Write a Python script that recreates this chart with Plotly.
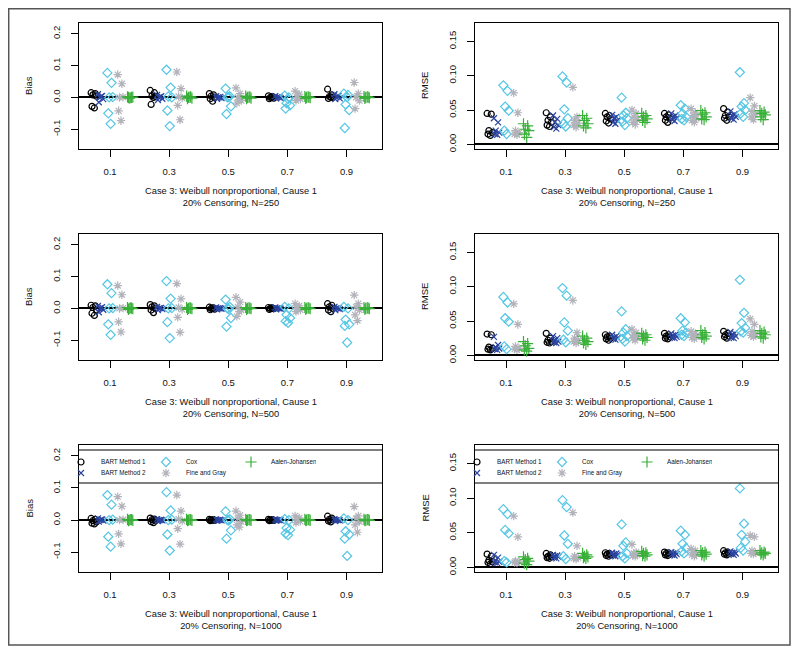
import plotly.graph_objects as go

# time quantiles on the x axis
groups = [0.1, 0.3, 0.5, 0.7, 0.9]
group_labels = ["0.1", "0.3", "0.5", "0.7", "0.9"]
methods = ["BART Method 1", "BART Method 2", "Cox", "Fine and Gray", "Aalen-Johansen"]

# ---- Bias, N=250 ----
bias250_bart1 = [[0.015, 0.012, 0.008, 0.004, -0.028, -0.033],
                 [0.022, 0.015, 0.005, 0.003, -0.022, 0.0],
                 [0.012, 0.008, 0.004, 0.0, -0.004, -0.012],
                 [0.005, 0.003, 0.0, -0.002, -0.004, 0.001],
                 [0.026, 0.008, 0.003, 0.0, -0.003, 0.001]]
bias250_bart2 = [[0.01, 0.005, 0.0, -0.005, -0.015, 0.003],
                 [0.008, 0.004, 0.0, -0.004, -0.008, 0.002],
                 [0.004, 0.002, 0.0, -0.002, -0.004, 0.0],
                 [0.004, 0.002, 0.0, -0.002, -0.003, 0.001],
                 [0.01, 0.005, 0.0, -0.003, -0.005, 0.002]]
bias250_cox = [[0.077, 0.046, 0.0, 0.001, -0.05, -0.083],
               [0.087, 0.031, 0.003, 0.0, -0.041, -0.09],
               [0.028, 0.004, 0.0, -0.028, -0.052, 0.001],
               [0.006, 0.0, -0.018, -0.025, -0.035, -0.005],
               [0.012, 0.008, -0.022, -0.04, -0.096, 0.0]]
bias250_fg = [[0.072, 0.043, 0.0, 0.001, -0.042, -0.073],
              [0.08, 0.028, 0.003, -0.002, -0.025, -0.07],
              [0.03, 0.012, 0.0, -0.01, -0.018, -0.008],
              [0.02, 0.01, 0.0, -0.005, -0.01, 0.005],
              [0.047, 0.012, 0.0, -0.01, -0.035, 0.005]]
bias250_aj = [[0.002, 0.0, -0.002, 0.001, 0.0, -0.001],
              [0.004, 0.002, 0.0, -0.002, -0.004, 0.001],
              [0.004, 0.002, 0.0, -0.002, -0.004, 0.001],
              [0.003, 0.001, 0.0, -0.001, -0.003, 0.002],
              [0.003, 0.001, 0.0, -0.001, -0.003, 0.002]]

# ---- RMSE, N=250 ----
rmse250_bart1 = [[0.045, 0.044, 0.02, 0.017, 0.015, 0.013],
                 [0.046, 0.04, 0.035, 0.032, 0.028, 0.026],
                 [0.045, 0.042, 0.04, 0.037, 0.034, 0.031],
                 [0.045, 0.043, 0.04, 0.038, 0.035, 0.032],
                 [0.052, 0.047, 0.042, 0.04, 0.038, 0.035]]
rmse250_bart2 = [[0.038, 0.032, 0.02, 0.017, 0.015, 0.014],
                 [0.042, 0.037, 0.032, 0.028, 0.025, 0.023],
                 [0.043, 0.04, 0.038, 0.035, 0.032, 0.03],
                 [0.045, 0.042, 0.04, 0.038, 0.036, 0.034],
                 [0.048, 0.044, 0.042, 0.04, 0.038, 0.036]]
rmse250_cox = [[0.086, 0.078, 0.055, 0.049, 0.02, 0.015],
               [0.099, 0.09, 0.051, 0.038, 0.03, 0.026],
               [0.068, 0.046, 0.042, 0.038, 0.033, 0.028],
               [0.057, 0.052, 0.045, 0.04, 0.037, 0.035],
               [0.105, 0.06, 0.055, 0.05, 0.045, 0.04]]
rmse250_fg = [[0.075, 0.046, 0.02, 0.017, 0.015, 0.014],
              [0.083, 0.04, 0.035, 0.031, 0.028, 0.025],
              [0.05, 0.045, 0.04, 0.036, 0.032, 0.029],
              [0.052, 0.046, 0.042, 0.038, 0.035, 0.032],
              [0.068, 0.056, 0.048, 0.044, 0.04, 0.036]]
rmse250_aj = [[0.03, 0.027, 0.022, 0.02, 0.015, 0.01],
              [0.042, 0.038, 0.035, 0.03, 0.027, 0.024],
              [0.045, 0.042, 0.04, 0.037, 0.035, 0.032],
              [0.049, 0.046, 0.044, 0.04, 0.037, 0.036],
              [0.049, 0.047, 0.045, 0.043, 0.04, 0.036]]

# ---- Bias, N=500 ----
bias500_bart1 = [[0.01, 0.008, 0.003, -0.005, -0.015, -0.022],
                 [0.012, 0.008, 0.005, 0.0, -0.005, -0.013],
                 [0.004, 0.002, 0.0, -0.002, -0.004, 0.001],
                 [0.003, 0.001, 0.0, -0.001, -0.003, 0.002],
                 [0.015, 0.01, 0.005, 0.0, -0.005, -0.01]]
bias500_bart2 = [[0.008, 0.004, 0.0, -0.004, -0.012, 0.002],
                 [0.005, 0.002, 0.0, -0.002, -0.005, 0.001],
                 [0.003, 0.001, 0.0, -0.001, -0.003, 0.0],
                 [0.003, 0.001, 0.0, -0.001, -0.003, 0.0],
                 [0.005, 0.002, 0.0, -0.002, -0.005, 0.0]]
bias500_cox = [[0.076, 0.048, 0.0, 0.001, -0.05, -0.083],
               [0.086, 0.031, 0.0, 0.001, -0.043, -0.093],
               [0.028, 0.005, 0.0, -0.03, -0.057, -0.002],
               [0.005, 0.0, -0.02, -0.03, -0.04, -0.045],
               [0.005, 0.0, -0.035, -0.05, -0.055, -0.107]]
bias500_fg = [[0.072, 0.043, 0.0, 0.001, -0.042, -0.074],
              [0.078, 0.03, 0.003, -0.003, -0.028, -0.075],
              [0.035, 0.02, 0.005, -0.005, -0.025, -0.01],
              [0.015, 0.008, 0.0, -0.005, -0.01, 0.003],
              [0.042, 0.015, 0.005, -0.005, -0.02, -0.038]]
bias500_aj = [[0.003, 0.001, 0.0, -0.001, -0.003, 0.002],
              [0.003, 0.001, 0.0, -0.001, -0.003, 0.002],
              [0.003, 0.001, 0.0, -0.001, -0.003, 0.002],
              [0.003, 0.001, 0.0, -0.001, -0.003, 0.002],
              [0.003, 0.001, 0.0, -0.001, -0.003, 0.002]]

# ---- RMSE, N=500 ----
rmse500_bart1 = [[0.031, 0.03, 0.012, 0.01, 0.009, 0.008],
                 [0.032, 0.025, 0.022, 0.02, 0.019, 0.018],
                 [0.03, 0.028, 0.027, 0.025, 0.024, 0.022],
                 [0.032, 0.03, 0.028, 0.027, 0.025, 0.024],
                 [0.035, 0.032, 0.03, 0.028, 0.027, 0.025]]
rmse500_bart2 = [[0.027, 0.015, 0.012, 0.01, 0.009, 0.008],
                 [0.028, 0.025, 0.022, 0.02, 0.019, 0.018],
                 [0.03, 0.028, 0.026, 0.025, 0.024, 0.023],
                 [0.032, 0.03, 0.029, 0.027, 0.026, 0.025],
                 [0.034, 0.032, 0.03, 0.028, 0.026, 0.025]]
rmse500_cox = [[0.085, 0.077, 0.054, 0.049, 0.013, 0.009],
               [0.098, 0.087, 0.048, 0.036, 0.023, 0.019],
               [0.064, 0.038, 0.033, 0.028, 0.024, 0.02],
               [0.054, 0.048, 0.036, 0.033, 0.03, 0.028],
               [0.11, 0.062, 0.047, 0.04, 0.035, 0.033]]
rmse500_fg = [[0.075, 0.045, 0.013, 0.01, 0.009, 0.008],
              [0.08, 0.033, 0.025, 0.022, 0.02, 0.018],
              [0.038, 0.033, 0.03, 0.027, 0.025, 0.022],
              [0.035, 0.032, 0.03, 0.028, 0.026, 0.024],
              [0.053, 0.045, 0.035, 0.031, 0.029, 0.027]]
rmse500_aj = [[0.02, 0.017, 0.014, 0.01, 0.008, 0.006],
              [0.028, 0.025, 0.022, 0.02, 0.018, 0.016],
              [0.032, 0.03, 0.028, 0.026, 0.024, 0.022],
              [0.036, 0.033, 0.03, 0.028, 0.026, 0.024],
              [0.036, 0.034, 0.032, 0.03, 0.027, 0.025]]

# ---- Bias, N=1000 ----
bias1000_bart1 = [[0.005, 0.002, -0.002, -0.006, -0.01, -0.012],
                  [0.006, 0.003, 0.001, -0.002, -0.005, -0.008],
                  [0.002, 0.001, 0.0, -0.001, -0.002, 0.0],
                  [0.002, 0.001, 0.0, -0.001, -0.002, 0.0],
                  [0.012, 0.006, 0.002, 0.0, -0.003, -0.006]]
bias1000_bart2 = [[0.005, 0.002, 0.0, -0.002, -0.005, 0.001],
                  [0.003, 0.001, 0.0, -0.001, -0.003, 0.0],
                  [0.002, 0.001, 0.0, -0.001, -0.002, 0.0],
                  [0.002, 0.001, 0.0, -0.001, -0.002, 0.0],
                  [0.003, 0.001, 0.0, -0.001, -0.003, 0.0]]
bias1000_cox = [[0.078, 0.048, 0.0, 0.001, -0.052, -0.083],
                [0.087, 0.03, 0.0, 0.001, -0.045, -0.095],
                [0.027, 0.003, 0.0, -0.032, -0.058, -0.002],
                [0.003, 0.0, -0.025, -0.03, -0.042, -0.047],
                [0.005, 0.0, -0.035, -0.045, -0.058, -0.112]]
bias1000_fg = [[0.073, 0.043, 0.0, 0.001, -0.043, -0.074],
               [0.078, 0.028, 0.003, -0.003, -0.027, -0.075],
               [0.028, 0.015, 0.005, -0.005, -0.015, -0.022],
               [0.013, 0.007, 0.0, -0.004, -0.008, 0.003],
               [0.042, 0.013, 0.005, -0.005, -0.015, -0.038]]
bias1000_aj = [[0.002, 0.001, 0.0, -0.001, -0.002, 0.001],
               [0.002, 0.001, 0.0, -0.001, -0.002, 0.001],
               [0.002, 0.001, 0.0, -0.001, -0.002, 0.001],
               [0.002, 0.001, 0.0, -0.001, -0.002, 0.001],
               [0.002, 0.001, 0.0, -0.001, -0.002, 0.001]]

# ---- RMSE, N=1000 ----
rmse1000_bart1 = [[0.019, 0.016, 0.01, 0.008, 0.007, 0.005],
                  [0.02, 0.018, 0.016, 0.015, 0.014, 0.013],
                  [0.021, 0.02, 0.019, 0.018, 0.017, 0.016],
                  [0.022, 0.021, 0.02, 0.019, 0.018, 0.017],
                  [0.024, 0.022, 0.021, 0.02, 0.019, 0.018]]
rmse1000_bart2 = [[0.018, 0.014, 0.01, 0.008, 0.007, 0.006],
                  [0.018, 0.017, 0.016, 0.015, 0.014, 0.013],
                  [0.021, 0.02, 0.019, 0.018, 0.017, 0.016],
                  [0.022, 0.021, 0.02, 0.019, 0.018, 0.017],
                  [0.023, 0.022, 0.021, 0.02, 0.019, 0.018]]
rmse1000_cox = [[0.084, 0.077, 0.054, 0.049, 0.009, 0.007],
                [0.097, 0.087, 0.046, 0.034, 0.016, 0.012],
                [0.062, 0.036, 0.031, 0.02, 0.016, 0.013],
                [0.053, 0.047, 0.034, 0.028, 0.023, 0.02],
                [0.114, 0.063, 0.047, 0.037, 0.028, 0.024]]
rmse1000_fg = [[0.074, 0.044, 0.009, 0.008, 0.007, 0.006],
               [0.079, 0.031, 0.016, 0.014, 0.013, 0.012],
               [0.033, 0.022, 0.02, 0.018, 0.017, 0.016],
               [0.027, 0.024, 0.021, 0.019, 0.018, 0.016],
               [0.046, 0.044, 0.024, 0.021, 0.02, 0.019]]
rmse1000_aj = [[0.015, 0.013, 0.011, 0.009, 0.006, 0.004],
               [0.02, 0.018, 0.016, 0.015, 0.014, 0.013],
               [0.023, 0.021, 0.02, 0.018, 0.017, 0.016],
               [0.024, 0.022, 0.021, 0.019, 0.018, 0.016],
               [0.024, 0.022, 0.021, 0.02, 0.019, 0.018]]

panels = [
    ("Bias", "20% Censoring, N=250", [bias250_bart1, bias250_bart2, bias250_cox, bias250_fg, bias250_aj]),
    ("RMSE", "20% Censoring, N=250", [rmse250_bart1, rmse250_bart2, rmse250_cox, rmse250_fg, rmse250_aj]),
    ("Bias", "20% Censoring, N=500", [bias500_bart1, bias500_bart2, bias500_cox, bias500_fg, bias500_aj]),
    ("RMSE", "20% Censoring, N=500", [rmse500_bart1, rmse500_bart2, rmse500_cox, rmse500_fg, rmse500_aj]),
    ("Bias", "20% Censoring, N=1000", [bias1000_bart1, bias1000_bart2, bias1000_cox, bias1000_fg, bias1000_aj]),
    ("RMSE", "20% Censoring, N=1000", [rmse1000_bart1, rmse1000_bart2, rmse1000_cox, rmse1000_fg, rmse1000_aj]),
]

# styles
colors = ["#000000", "#2a44a0", "#55c6e4", "#b2b2ba", "#38b038"]
symbols = ["circle-open", "x-thin-open", "diamond-open", "asterisk-open", "cross-thin-open"]
msizes = [6, 6, 7, 7, 8]
offsets = [-0.055, -0.032, 0.0, 0.035, 0.068]
jitter = [-0.009, 0.005, -0.003, 0.009, -0.006, 0.002]

# the page body adds an 8px margin, so the figure is laid out 8px smaller
OFF = 8
W, H = 800 - OFF, 653 - OFF
col_px = [(79, 382), (475, 778)]
row_px = [(23, 149), (234, 360), (445, 572)]
FONT = "Liberation Sans, Arial, sans-serif"


def px(v):
    return (v - OFF) / W


def py(v):
    return 1 - (v - OFF) / H


fig = go.Figure()

for i, (ylab, sub, series) in enumerate(panels):
    r, c = i // 2, i % 2
    ax = "" if i == 0 else str(i + 1)
    for m, vals in enumerate(series):
        xs, ys = [], []
        for g, gv in zip(groups, vals):
            for k, v in enumerate(gv):
                xs.append(g + offsets[m] + jitter[k % len(jitter)])
                ys.append(v)
        show = i >= 4
        if i == 4:
            leg = "legend" if m in (0, 2, 4) else "legend2"
        else:
            leg = "legend3" if m in (0, 2, 4) else "legend4"
        fig.add_trace(go.Scatter(
            x=xs, y=ys, mode="markers", name=methods[m],
            xaxis="x" + ax, yaxis="y" + ax,
            showlegend=show, legend=leg if show else None,
            marker=dict(symbol=symbols[m], size=msizes[m], color=colors[m],
                        line=dict(color=colors[m], width=1.2)),
        ))

    l, rr = col_px[c]
    t, b = row_px[r]
    if ylab == "Bias":
        yr = [-0.162, 0.234]
        yt = [-0.1, 0.0, 0.1, 0.2]
        ytt = ["-0.1", "0.0", "0.1", "0.2"]
    else:
        yr = [-0.0068, 0.1768]
        yt = [0.0, 0.05, 0.1, 0.15]
        ytt = ["0.00", "0.05", "0.10", "0.15"]
    common = dict(showline=True, mirror=True, linecolor="black", linewidth=1.3,
                  showgrid=False, ticks="outside", ticklen=7, tickwidth=1,
                  tickcolor="black", automargin=False,
                  tickfont=dict(family=FONT, size=9.5, color="#111"))
    fig.layout["xaxis" + ax] = dict(
        domain=[px(l), px(rr)], range=[-0.005, 1.02], anchor="y" + ax,
        tickvals=groups, ticktext=group_labels, zeroline=False,
        ticklabelstandoff=6, **common)
    fig.layout["yaxis" + ax] = dict(
        domain=[py(b), py(t)], range=yr, anchor="x" + ax,
        tickvals=yt, ticktext=ytt, tickangle=-90, ticklabelstandoff=7,
        zeroline=True, zerolinecolor="black", zerolinewidth=1.5, **common)

    # axis titles
    fig.add_annotation(text=ylab, x=px(l - 50), y=py((t + b) / 2),
                       xref="paper", yref="paper", xanchor="center", yanchor="middle",
                       showarrow=False, textangle=-90,
                       font=dict(family=FONT, size=9.5, color="#111"))
    fig.add_annotation(text="Case 3: Weibull nonproportional, Cause 1<br>" + sub,
                       x=px((l + rr) / 2), y=py(b + 48), xref="paper", yref="paper",
                       xanchor="center", yanchor="middle", showarrow=False,
                       font=dict(family=FONT, size=9.3, color="#111"))

# legend box lines in bottom row
for l, rr in col_px:
    for yy in (450, 483):
        fig.add_shape(type="line", xref="paper", yref="paper",
                      x0=px(l), x1=px(rr), y0=py(yy), y1=py(yy),
                      line=dict(color="black", width=1.2))

# outer frame
fig.add_shape(type="rect", xref="paper", yref="paper",
              x0=px(8.7), x1=px(790), y0=py(645), y1=py(8.7),
              line=dict(color="#555", width=1.5))

leg_common = dict(orientation="h", xanchor="left", yanchor="middle",
                  bgcolor="rgba(0,0,0,0)", font=dict(family=FONT, size=6.3, color="#111"),
                  itemwidth=30, entrywidth=40, entrywidthmode="pixels", tracegroupgap=0)
fig.update_layout(
    template="none",
    width=W, height=H, margin=dict(l=0, r=0, t=0, b=0, autoexpand=False),
    paper_bgcolor="white", plot_bgcolor="white",
    legend=dict(x=px(col_px[0][0] - 18), y=py(462), **leg_common),
    legend2=dict(x=px(col_px[0][0] - 18), y=py(473), **leg_common),
    legend3=dict(x=px(col_px[1][0] - 18), y=py(462), **leg_common),
    legend4=dict(x=px(col_px[1][0] - 18), y=py(473), **leg_common),
)

fig.write_html("out.html")
